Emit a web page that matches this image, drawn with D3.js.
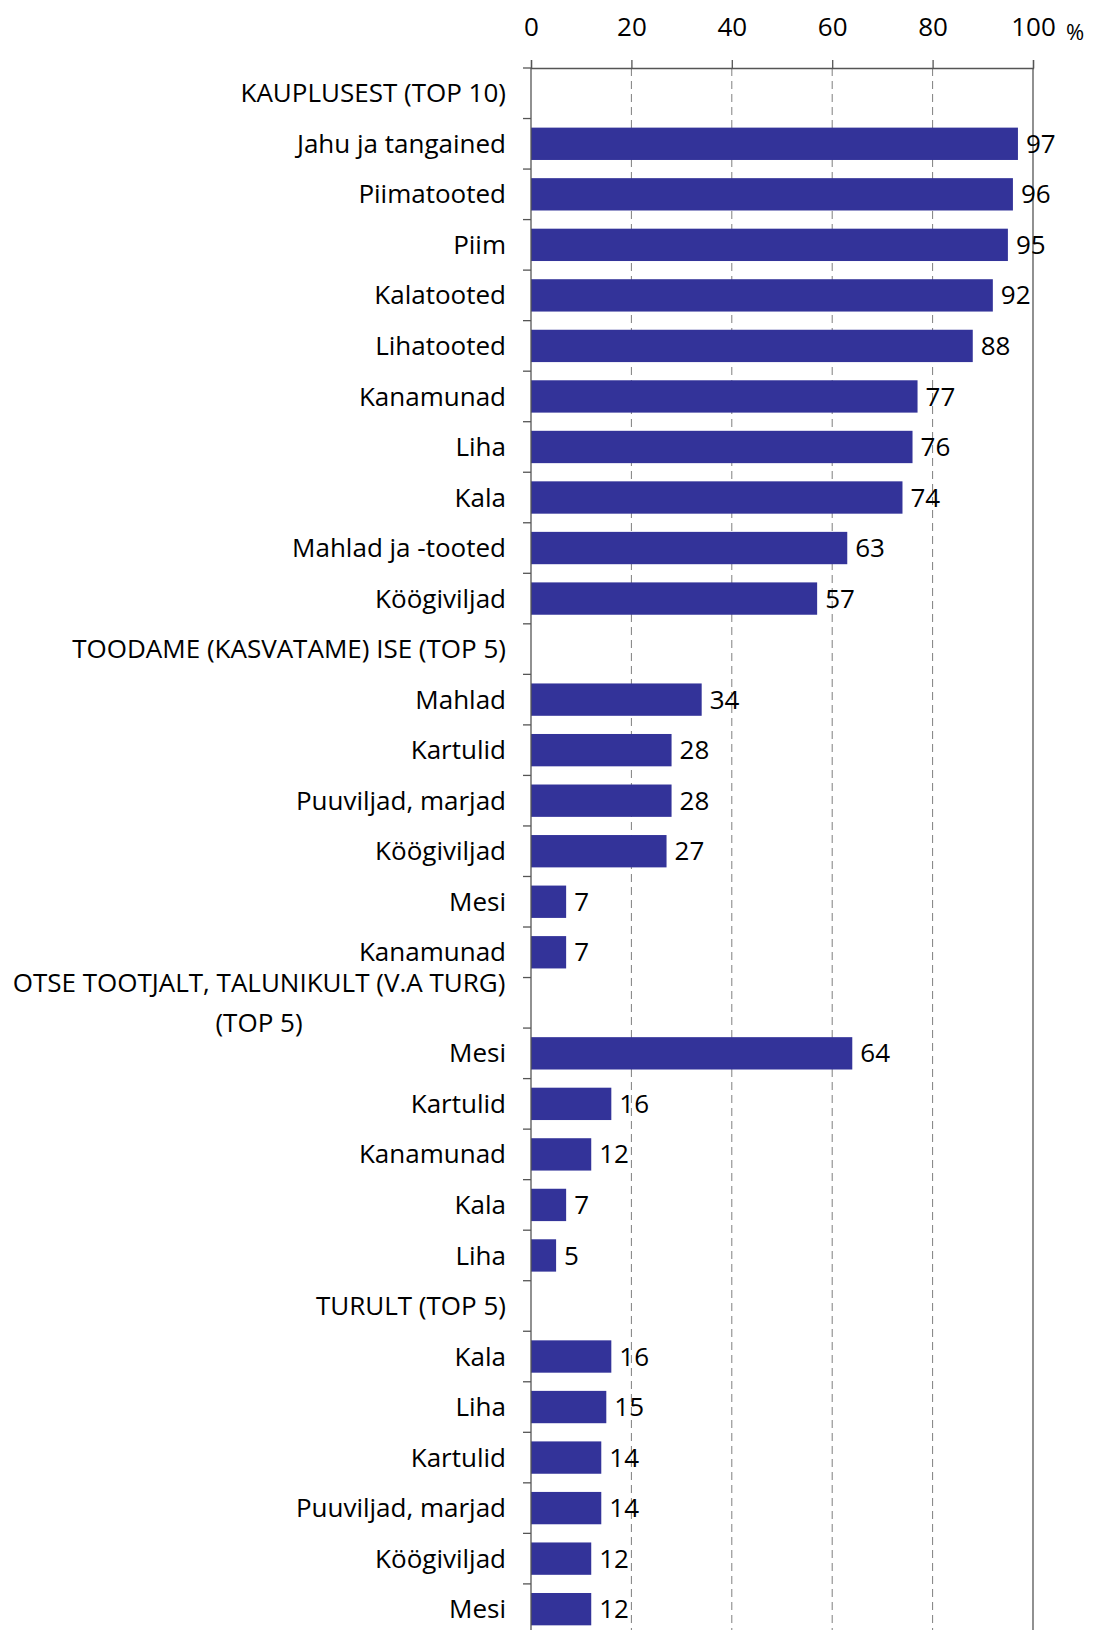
<!DOCTYPE html>
<html>
<head>
<meta charset="utf-8">
<script src="https://cdn.jsdelivr.net/npm/d3@7"></script>
<style>
  html, body { margin: 0; padding: 0; background: #fff; }
  svg { display: block; font-family: "Open Sans", Lato, sans-serif; }
</style>
</head>
<body>
<svg id="chart" width="1095" height="1630"></svg>
<script>
// ---- data ----
const categories = [
  "KAUPLUSEST (TOP 10)",
  "Jahu ja tangained", "Piimatooted", "Piim", "Kalatooted", "Lihatooted",
  "Kanamunad", "Liha", "Kala", "Mahlad ja -tooted", "Köögiviljad",
  "TOODAME (KASVATAME) ISE (TOP 5)",
  "Mahlad", "Kartulid", "Puuviljad, marjad", "Köögiviljad", "Mesi", "Kanamunad",
  "OTSE TOOTJALT, TALUNIKULT (V.A TURG)|(TOP 5)",
  "Mesi", "Kartulid", "Kanamunad", "Kala", "Liha",
  "TURULT (TOP 5)",
  "Kala", "Liha", "Kartulid", "Puuviljad, marjad", "Köögiviljad", "Mesi"
];
const values = [
  null,
  97, 96, 95, 92, 88, 77, 76, 74, 63, 57,
  null,
  34, 28, 28, 27, 7, 7,
  null,
  64, 16, 12, 7, 5,
  null,
  16, 15, 14, 14, 12, 12
];
const tickValues = [0, 20, 40, 60, 80, 100];
const unitLabel = "%";

// ---- layout ----
const svg = d3.select("#chart");
const x0 = 531, x1 = 1033;
const plotTop = 68, band = 50.53;
const rows = categories.map((c, i) => ({ id: i, label: c, value: values[i] }));

const x = d3.scaleLinear().domain([0, 100]).range([x0, x1]);
const y = d3.scaleBand()
  .domain(rows.map(d => d.id))
  .range([plotTop, plotTop + band * rows.length])
  .paddingInner(0.36)
  .paddingOuter(0.18);

const plotBottom = plotTop + band * rows.length;
const fontSize = 26;

// gridlines (dashed)
svg.append("g").selectAll("line")
  .data(tickValues.filter(t => t > 0 && t < 100))
  .join("line")
  .attr("x1", d => x(d)).attr("x2", d => x(d))
  .attr("y1", plotTop).attr("y2", plotBottom)
  .attr("stroke", "#7f7f7f")
  .attr("stroke-width", 1)
  .attr("stroke-dasharray", "8,5");

// right border at 100
svg.append("line")
  .attr("x1", x(100)).attr("x2", x(100))
  .attr("y1", plotTop).attr("y2", plotBottom)
  .attr("stroke", "#555").attr("stroke-width", 1.3);

// bars
svg.append("g").selectAll("rect")
  .data(rows.filter(d => d.value != null))
  .join("rect")
  .attr("x", x(0))
  .attr("y", d => y(d.id))
  .attr("width", d => x(d.value) - x(0))
  .attr("height", y.bandwidth())
  .attr("fill", "#333399");

// value labels
svg.append("g").selectAll("text")
  .data(rows.filter(d => d.value != null))
  .join("text")
  .attr("x", d => x(d.value) + 8)
  .attr("y", d => y(d.id) + y.bandwidth() / 2)
  .attr("dy", "0.35em")
  .attr("font-size", fontSize)
  .attr("fill", "#000")
  .text(d => d.value);

// top axis
const xAxis = d3.axisTop(x).tickValues(tickValues).tickSize(8).tickPadding(24).tickFormat(d3.format("d"));
const gx = svg.append("g").attr("transform", `translate(0,${plotTop})`).call(xAxis);
gx.attr("font-family", null).attr("font-size", null);
gx.select(".domain").attr("stroke", "#555").attr("stroke-width", 1.3);
gx.selectAll(".tick line").attr("stroke", "#555").attr("stroke-width", 1.3);
gx.selectAll(".tick text").attr("font-size", fontSize).attr("fill", "#000");

svg.append("text")
  .attr("x", x(100) + 33).attr("y", 40)
  .attr("font-size", 22)
  .attr("fill", "#000")
  .text(unitLabel);

// left axis line + ticks at band boundaries
svg.append("line")
  .attr("x1", x0).attr("x2", x0).attr("y1", plotTop).attr("y2", plotBottom)
  .attr("stroke", "#555").attr("stroke-width", 1.3);
svg.append("g").selectAll("line")
  .data(d3.range(rows.length + 1))
  .join("line")
  .attr("x1", x0 - 8).attr("x2", x0)
  .attr("y1", i => plotTop + i * band).attr("y2", i => plotTop + i * band)
  .attr("stroke", "#555").attr("stroke-width", 1.3);

// category labels
const lab = svg.append("g").selectAll("text")
  .data(rows)
  .join("text")
  .attr("font-size", fontSize)
  .attr("fill", "#000")
  .attr("y", d => y(d.id) + y.bandwidth() / 2);

lab.each(function(d) {
  const t = d3.select(this);
  const parts = d.label.split("|");
  if (parts.length === 1) {
    t.attr("x", 506).attr("text-anchor", "end").attr("dy", "0.35em").text(d.label);
  } else {
    t.attr("text-anchor", "middle").attr("x", 259);
    parts.forEach((p, k) => {
      t.append("tspan")
        .attr("x", 259)
        .attr("dy", k === 0 ? `${-0.77 + 0.35}em` : "1.54em")
        .text(p);
    });
  }
});
</script>
</body>
</html>
